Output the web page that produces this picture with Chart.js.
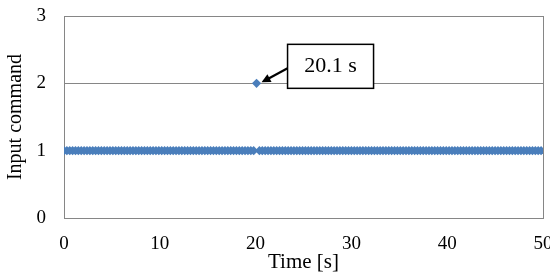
<!DOCTYPE html>
<html>
<head>
<meta charset="utf-8">
<script src="https://cdn.jsdelivr.net/npm/chart.js@4/dist/chart.umd.min.js"></script>
<style>
  body { margin: 0; background: #fff; }
  #mychart { display: block; }
</style>
</head>
<body>
<canvas id="mychart" width="550" height="277"></canvas>
<script>
// time samples [s], every 0.3 s
const tiempos = [
  0, 0.3, 0.6, 0.9, 1.2, 1.5, 1.8, 2.1, 2.4, 2.7,
  3, 3.3, 3.6, 3.9, 4.2, 4.5, 4.8, 5.1, 5.4, 5.7,
  6, 6.3, 6.6, 6.9, 7.2, 7.5, 7.8, 8.1, 8.4, 8.7,
  9, 9.3, 9.6, 9.9, 10.2, 10.5, 10.8, 11.1, 11.4, 11.7,
  12, 12.3, 12.6, 12.9, 13.2, 13.5, 13.8, 14.1, 14.4, 14.7,
  15, 15.3, 15.6, 15.9, 16.2, 16.5, 16.8, 17.1, 17.4, 17.7,
  18, 18.3, 18.6, 18.9, 19.2, 19.5, 19.8, 20.1, 20.4, 20.7,
  21, 21.3, 21.6, 21.9, 22.2, 22.5, 22.8, 23.1, 23.4, 23.7,
  24, 24.3, 24.6, 24.9, 25.2, 25.5, 25.8, 26.1, 26.4, 26.7,
  27, 27.3, 27.6, 27.9, 28.2, 28.5, 28.8, 29.1, 29.4, 29.7,
  30, 30.3, 30.6, 30.9, 31.2, 31.5, 31.8, 32.1, 32.4, 32.7,
  33, 33.3, 33.6, 33.9, 34.2, 34.5, 34.8, 35.1, 35.4, 35.7,
  36, 36.3, 36.6, 36.9, 37.2, 37.5, 37.8, 38.1, 38.4, 38.7,
  39, 39.3, 39.6, 39.9, 40.2, 40.5, 40.8, 41.1, 41.4, 41.7,
  42, 42.3, 42.6, 42.9, 43.2, 43.5, 43.8, 44.1, 44.4, 44.7,
  45, 45.3, 45.6, 45.9, 46.2, 46.5, 46.8, 47.1, 47.4, 47.7,
  48, 48.3, 48.6, 48.9, 49.2, 49.5, 49.8
]
// input command at each sample
const comandos = [
  1, 1, 1, 1, 1, 1, 1, 1, 1, 1,
  1, 1, 1, 1, 1, 1, 1, 1, 1, 1,
  1, 1, 1, 1, 1, 1, 1, 1, 1, 1,
  1, 1, 1, 1, 1, 1, 1, 1, 1, 1,
  1, 1, 1, 1, 1, 1, 1, 1, 1, 1,
  1, 1, 1, 1, 1, 1, 1, 1, 1, 1,
  1, 1, 1, 1, 1, 1, 1, 2, 1, 1,
  1, 1, 1, 1, 1, 1, 1, 1, 1, 1,
  1, 1, 1, 1, 1, 1, 1, 1, 1, 1,
  1, 1, 1, 1, 1, 1, 1, 1, 1, 1,
  1, 1, 1, 1, 1, 1, 1, 1, 1, 1,
  1, 1, 1, 1, 1, 1, 1, 1, 1, 1,
  1, 1, 1, 1, 1, 1, 1, 1, 1, 1,
  1, 1, 1, 1, 1, 1, 1, 1, 1, 1,
  1, 1, 1, 1, 1, 1, 1, 1, 1, 1,
  1, 1, 1, 1, 1, 1, 1, 1, 1, 1,
  1, 1, 1, 1, 1, 1, 1
]
const xTicks = [0, 10, 20, 30, 40, 50]
const yTicks = [0, 1, 2, 3]
const nota = '20.1 s'
const notaPunto = { x: 20.1, y: 2 }

const puntos = tiempos.map((t, i) => ({ x: t, y: comandos[i] }))

// frame round the plot area + the callout box with arrow
const marco = {
  id: 'marco',
  beforeDatasetsDraw(chart) {
    const { ctx, chartArea: a } = chart
    ctx.save()
    ctx.strokeStyle = '#868686'
    ctx.lineWidth = 1
    ctx.strokeRect(Math.round(a.left) + 0.5, Math.round(a.top) + 0.5,
      Math.round(a.right - a.left), Math.round(a.bottom - a.top))
    ctx.restore()
  },
  afterDatasetsDraw(chart) {
    const { ctx, scales } = chart
    const px = scales.x.getPixelForValue(notaPunto.x)
    const py = scales.y.getPixelForValue(notaPunto.y)
    const bx = px + 31, by = py - 39, bw = 86, bh = 44
    ctx.save()
    ctx.fillStyle = '#fff'
    ctx.fillRect(bx, by, bw, bh)
    ctx.strokeStyle = '#000'
    ctx.lineWidth = 1.5
    ctx.strokeRect(bx, by, bw, bh)
    ctx.fillStyle = '#000'
    ctx.font = '22px "Liberation Serif"'
    ctx.textAlign = 'center'
    ctx.textBaseline = 'middle'
    ctx.fillText(nota, bx + bw / 2, by + bh / 2)
    // arrow
    const x0 = bx, y0 = py - 15, x1 = px + 5, y1 = py - 1
    const ang = Math.atan2(y1 - y0, x1 - x0)
    ctx.lineWidth = 2.2
    ctx.beginPath()
    ctx.moveTo(x0, y0)
    ctx.lineTo(x1 - 6 * Math.cos(ang), y1 - 6 * Math.sin(ang))
    ctx.stroke()
    ctx.beginPath()
    ctx.moveTo(x1, y1)
    ctx.lineTo(x1 - 10 * Math.cos(ang - 0.45), y1 - 10 * Math.sin(ang - 0.45))
    ctx.lineTo(x1 - 10 * Math.cos(ang + 0.45), y1 - 10 * Math.sin(ang + 0.45))
    ctx.closePath()
    ctx.fill()
    ctx.restore()
  }
}

const canvas = document.getElementById('mychart')
const grafico1 = new Chart(canvas, {
  type: 'scatter',
  data: {
    datasets: [{
      label: 'Input command',
      data: puntos,
      showLine: false,
      pointStyle: 'rectRot',
      pointRadius: 4.6,
      pointHoverRadius: 4.6,
      backgroundColor: '#4a7ebb',
      borderColor: '#4a7ebb',
      borderWidth: 0
    }]
  },
  options: {
    responsive: false,
    animation: false,
    layout: { padding: { top: 16, right: 7, left: 0, bottom: 0 } },
    plugins: { legend: { display: false }, tooltip: { enabled: false } },
    scales: {
      x: {
        type: 'linear',
        min: 0,
        max: 50,
        afterBuildTicks: s => { s.ticks = xTicks.map(v => ({ value: v })) },
        afterFit: s => { s.height = 59; s.paddingLeft = 0; s.paddingRight = 0 },
        grid: { display: false, drawTicks: false },
        border: { display: false },
        ticks: { padding: 15, color: '#000', font: { family: 'Liberation Serif', size: 19 } },
        title: {
          display: true, text: 'Time [s]', color: '#000',
          font: { family: 'Liberation Serif', size: 21 },
          padding: { top: 0, bottom: 2 }
        }
      },
      y: {
        min: 0,
        max: 3,
        afterBuildTicks: s => { s.ticks = yTicks.map(v => ({ value: v })) },
        afterFit: s => { s.width = 64; s.paddingTop = 0; s.paddingBottom = 0 },
        grid: { color: '#868686', lineWidth: 1, drawTicks: false },
        border: { display: false },
        ticks: { padding: 18, color: '#000', font: { family: 'Liberation Serif', size: 19 } },
        title: {
          display: true, text: 'Input command', color: '#000',
          font: { family: 'Liberation Serif', size: 20 },
          padding: { top: 4, bottom: 0 }
        }
      }
    }
  },
  plugins: [marco]
})
</script>
</body>
</html>
